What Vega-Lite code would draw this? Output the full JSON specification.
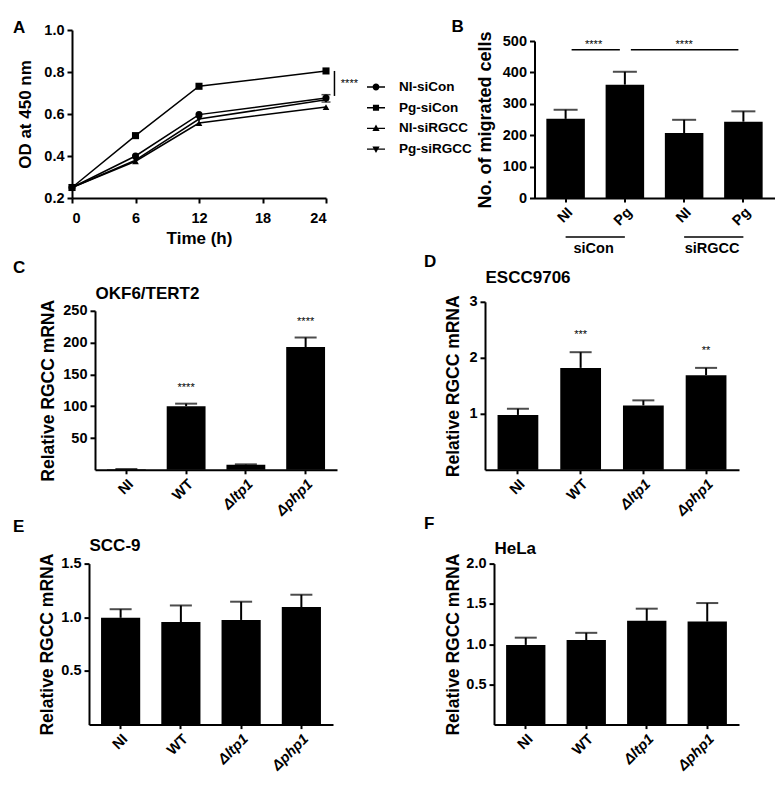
{
 "$schema": "https://vega.github.io/schema/vega-lite/v6.json",
 "background": "white",
 "padding": {"left": 13, "top": 18, "right": 0, "bottom": 0},
 "datasets": {
  "A": [
   {"series": "NI-siCon", "t": 0, "od": 0.25}, {"series": "NI-siCon", "t": 6, "od": 0.40}, {"series": "NI-siCon", "t": 12, "od": 0.597}, {"series": "NI-siCon", "t": 24, "od": 0.676},
   {"series": "Pg-siCon", "t": 0, "od": 0.25}, {"series": "Pg-siCon", "t": 6, "od": 0.497}, {"series": "Pg-siCon", "t": 12, "od": 0.732}, {"series": "Pg-siCon", "t": 24, "od": 0.805},
   {"series": "NI-siRGCC", "t": 0, "od": 0.25}, {"series": "NI-siRGCC", "t": 6, "od": 0.375}, {"series": "NI-siRGCC", "t": 12, "od": 0.557}, {"series": "NI-siRGCC", "t": 24, "od": 0.633},
   {"series": "Pg-siRGCC", "t": 0, "od": 0.25}, {"series": "Pg-siRGCC", "t": 6, "od": 0.38}, {"series": "Pg-siRGCC", "t": 12, "od": 0.576}, {"series": "Pg-siRGCC", "t": 24, "od": 0.668}
  ],
  "Aerr": [{"t": 24, "lo": 0.657, "hi": 0.692}],
  "Asig": [{"t": 24.8, "od": 0.686, "od2": 0.805, "tx": 25.4, "ty": 0.745, "lab": "****"}],
  "B": [
   {"cond": "NI-siCon", "mean": 252, "err": 281},
   {"cond": "Pg-siCon", "mean": 361, "err": 402},
   {"cond": "NI-siRGCC", "mean": 207, "err": 249},
   {"cond": "Pg-siRGCC", "mean": 243, "err": 276}
  ],
  "Bsig": [
   {"cond": "NI-siCon", "cond2": "Pg-siCon", "mean": 472},
   {"cond": "Pg-siCon", "cond2": "Pg-siRGCC", "mean": 472}
  ],
  "Bgrp": [
   {"cond": "NI-siCon", "cond2": "Pg-siCon", "mean": -124, "ty": -163, "lab": "siCon"},
   {"cond": "NI-siRGCC", "cond2": "Pg-siRGCC", "mean": -124, "ty": -163, "lab": "siRGCC"}
  ],
  "C": [
   {"g": "NI", "mean": 1, "err": 1.3},
   {"g": "WT", "mean": 100, "err": 104},
   {"g": "Δltp1", "mean": 8, "err": 8.6},
   {"g": "Δphp1", "mean": 193, "err": 208}
  ],
  "Cs": [{"g": "WT", "y": 129, "lab": "****"}, {"g": "Δphp1", "y": 233, "lab": "****"}],
  "D": [
   {"g": "NI", "mean": 0.98, "err": 1.09},
   {"g": "WT", "mean": 1.82, "err": 2.10},
   {"g": "Δltp1", "mean": 1.15, "err": 1.24},
   {"g": "Δphp1", "mean": 1.69, "err": 1.82}
  ],
  "Ds": [{"g": "WT", "y": 2.41, "lab": "***"}, {"g": "Δphp1", "y": 2.13, "lab": "**"}],
  "E": [
   {"g": "NI", "mean": 0.995, "err": 1.075},
   {"g": "WT", "mean": 0.955, "err": 1.11},
   {"g": "Δltp1", "mean": 0.975, "err": 1.145},
   {"g": "Δphp1", "mean": 1.095, "err": 1.21}
  ],
  "F": [
   {"g": "NI", "mean": 0.99, "err": 1.08},
   {"g": "WT", "mean": 1.05, "err": 1.14},
   {"g": "Δltp1", "mean": 1.29, "err": 1.44},
   {"g": "Δphp1", "mean": 1.28, "err": 1.51}
  ]
 },
 "columns": 1,
 "align": "none",
 "spacing": -3.2,
 "concat": [
  {
   "columns": 2, "align": "none", "spacing": 93.5,
   "concat": [
    {
     "title": {"text": "A", "anchor": "start", "frame": "group", "dx": -59, "offset": -28.35, "baseline": "alphabetic"},
     "width": 254, "height": 168,
     "layer": [
      {"data": {"name": "A"}, "mark": {"type": "line", "color": "black", "strokeWidth": 1.5},
       "encoding": {
        "x": {"field": "t", "type": "quantitative", "scale": {"domain": [0, 24], "nice": false}, "axis": {"values": [0, 6, 12, 18, 24], "tickCount": 20, "title": "Time (h)", "labelAngle": 0, "labelPadding": 8, "titleFontSize": 17, "titlePadding": 6}},
        "y": {"field": "od", "type": "quantitative", "scale": {"domain": [0.2, 1.0], "nice": false, "zero": false}, "axis": {"values": [0.2, 0.4, 0.6, 0.8, 1.0], "tickCount": 20, "format": ".1f", "title": "OD at 450 nm", "titleFontSize": 17, "titlePadding": 9}},
        "detail": {"field": "series"}}},
      {"data": {"name": "Aerr"}, "mark": {"type": "rule", "color": "black", "strokeWidth": 1.5},
       "encoding": {"x": {"field": "t", "type": "quantitative"}, "y": {"field": "lo", "type": "quantitative"}, "y2": {"field": "hi"}}},
      {"data": {"name": "Aerr"}, "mark": {"type": "tick", "color": "black", "thickness": 1.5, "size": 9, "orient": "horizontal"},
       "encoding": {"x": {"field": "t", "type": "quantitative"}, "y": {"field": "hi", "type": "quantitative"}}},
      {"data": {"name": "Aerr"}, "mark": {"type": "tick", "color": "black", "thickness": 1.5, "size": 9, "orient": "horizontal"},
       "encoding": {"x": {"field": "t", "type": "quantitative"}, "y": {"field": "lo", "type": "quantitative"}}},
      {"data": {"name": "A"}, "transform": [{"filter": "datum.series === 'NI-siCon'"}], "mark": {"type": "point", "shape": "circle", "filled": true, "color": "black", "opacity": 1, "size": 50},
       "encoding": {"x": {"field": "t", "type": "quantitative"}, "y": {"field": "od", "type": "quantitative"}}},
      {"data": {"name": "A"}, "transform": [{"filter": "datum.series === 'Pg-siCon'"}], "mark": {"type": "point", "shape": "square", "filled": true, "color": "black", "opacity": 1, "size": 50},
       "encoding": {"x": {"field": "t", "type": "quantitative"}, "y": {"field": "od", "type": "quantitative"}}},
      {"data": {"name": "A"}, "transform": [{"filter": "datum.series === 'NI-siRGCC'"}], "mark": {"type": "point", "shape": "triangle-up", "filled": true, "color": "black", "opacity": 1, "size": 45},
       "encoding": {"x": {"field": "t", "type": "quantitative"}, "y": {"field": "od", "type": "quantitative"}}},
      {"data": {"name": "A"}, "transform": [{"filter": "datum.series === 'Pg-siRGCC'"}], "mark": {"type": "point", "shape": "triangle-down", "filled": true, "color": "black", "opacity": 1, "size": 45},
       "encoding": {"x": {"field": "t", "type": "quantitative"}, "y": {"field": "od", "type": "quantitative"}}},
      {"data": {"name": "A"}, "mark": {"type": "point", "filled": true, "color": "black", "opacity": 0, "size": 324},
       "encoding": {"x": {"field": "t", "type": "quantitative"}, "y": {"field": "od", "type": "quantitative"},
        "shape": {"field": "series", "type": "nominal",
         "scale": {"domain": ["NI-siCon", "Pg-siCon", "NI-siRGCC", "Pg-siRGCC"],
          "range": [
           "M-1,-0.08H1V0.08H-1ZM-0.38,0A0.38,0.38,0,1,1,0.38,0A0.38,0.38,0,1,1,-0.38,0Z",
           "M-1,-0.08H1V0.08H-1ZM-0.34,-0.34H0.34V0.34H-0.34Z",
           "M-1,-0.08H1V0.08H-1ZM0,-0.44L0.4,0.3L-0.4,0.3Z",
           "M-1,-0.08H1V0.08H-1ZM0,0.44L-0.4,-0.3L0.4,-0.3Z"]},
         "legend": {"title": null, "orient": "none", "legendX": 294, "legendY": 47, "symbolSize": 324, "labelFontSize": 13.5, "labelFontWeight": "bold", "labelColor": "black", "labelOffset": 13, "rowPadding": 3.7, "padding": 0,
          "encode": {"symbols": {"update": {"fill": {"value": "black"}, "stroke": {"value": "black"}, "strokeWidth": {"value": 0.5}, "opacity": {"value": 1}, "size": {"value": 324}}}}}}}},
      {"data": {"name": "Asig"}, "mark": {"type": "rule", "color": "black", "strokeWidth": 1.5},
       "encoding": {"x": {"field": "t", "type": "quantitative"}, "y": {"field": "od", "type": "quantitative"}, "y2": {"field": "od2"}}},
      {"data": {"name": "Asig"}, "mark": {"type": "text", "fontSize": 11, "align": "left", "baseline": "middle", "color": "black"},
       "encoding": {"x": {"field": "tx", "type": "quantitative"}, "y": {"field": "ty", "type": "quantitative"}, "text": {"field": "lab"}}}
     ]
    },
    {
     "title": {"text": "B", "anchor": "start", "frame": "group", "dx": -83, "offset": -19.1, "baseline": "alphabetic"},
     "width": 240, "height": 168,
     "layer": [
      {"data": {"name": "B"}, "mark": {"type": "bar", "color": "black"},
       "encoding": {
        "x": {"field": "cond", "type": "nominal", "scale": {"domain": ["NI-siCon", "Pg-siCon", "NI-siRGCC", "Pg-siRGCC"], "paddingInner": 0.35, "paddingOuter": 0.2},
         "axis": {"title": null, "labelAngle": -45, "labelExpr": "split(datum.label, '-')[0]", "tickSize": 4}},
        "y": {"field": "mean", "type": "quantitative", "scale": {"domain": [0, 500], "nice": false, "range": [168, 11]}, "axis": {"values": [0, 100, 200, 300, 400, 500], "tickCount": 20, "title": "No. of migrated cells", "titleFontSize": 18, "titlePadding": 8}}}},
      {"data": {"name": "B"}, "mark": {"type": "rule", "color": "black", "strokeWidth": 2},
       "encoding": {"x": {"field": "cond", "type": "nominal"}, "y": {"field": "mean", "type": "quantitative"}, "y2": {"field": "err"}}},
      {"data": {"name": "B"}, "mark": {"type": "tick", "color": "black", "thickness": 2, "size": 24, "orient": "horizontal"},
       "encoding": {"x": {"field": "cond", "type": "nominal"}, "y": {"field": "err", "type": "quantitative"}}},
      {"data": {"name": "Bsig"}, "mark": {"type": "rule", "color": "black", "strokeWidth": 1.5, "xOffset": 6, "x2Offset": -5},
       "encoding": {"x": {"field": "cond", "type": "nominal"}, "x2": {"field": "cond2"}, "y": {"field": "mean", "type": "quantitative"}}},
      {"data": {"values": [{"cond": "NI-siCon", "mean": 486, "lab": "****"}]}, "mark": {"type": "text", "fontSize": 11, "baseline": "middle", "dx": 28, "color": "black"},
       "encoding": {"x": {"field": "cond", "type": "nominal"}, "y": {"field": "mean", "type": "quantitative"}, "text": {"field": "lab"}}},
      {"data": {"values": [{"cond": "NI-siRGCC", "mean": 486, "lab": "****"}]}, "mark": {"type": "text", "fontSize": 11, "baseline": "middle", "color": "black"},
       "encoding": {"x": {"field": "cond", "type": "nominal"}, "y": {"field": "mean", "type": "quantitative"}, "text": {"field": "lab"}}},
      {"data": {"name": "Bgrp"}, "mark": {"type": "rule", "color": "black", "strokeWidth": 1.5},
       "encoding": {"x": {"field": "cond", "type": "nominal"}, "x2": {"field": "cond2"}, "y": {"field": "mean", "type": "quantitative"}}},
      {"data": {"name": "Bgrp"}, "mark": {"type": "text", "fontSize": 14.5, "fontWeight": "bold", "baseline": "middle", "dx": 28, "color": "black"},
       "encoding": {"x": {"field": "cond", "type": "nominal"}, "y": {"field": "ty", "type": "quantitative"}, "text": {"field": "lab"}}}
     ]
    }
   ]
  },
  {
   "columns": 2, "align": "none", "spacing": 87,
   "concat": [
    {
     "title": {"text": "C", "anchor": "start", "frame": "group", "dx": -59, "offset": -5.6, "baseline": "alphabetic"},
     "width": 265, "height": 168,
     "layer": [
      {"data": {"name": "C"}, "mark": {"type": "bar", "color": "black"},
       "encoding": {
        "x": {"field": "g", "type": "nominal", "scale": {"domain": ["NI", "WT", "Δltp1", "Δphp1"], "range": [23, 265], "paddingInner": 0.35, "paddingOuter": 0.2},
         "axis": {"title": null, "labelAngle": -45, "tickSize": 4, "labelFontStyle": {"condition": {"test": "indexof(datum.label, 'Δ') === 0", "value": "italic"}, "value": "normal"}}},
        "y": {"field": "mean", "type": "quantitative", "scale": {"domain": [0, 250], "nice": false, "range": [168, 9]}, "axis": {"values": [50, 100, 150, 200, 250], "tickCount": 20, "offset": -23, "title": "Relative RGCC mRNA", "titlePadding": 5.5}}}},
      {"data": {"name": "C"}, "mark": {"type": "rule", "color": "black", "strokeWidth": 2},
       "encoding": {"x": {"field": "g", "type": "nominal", "axis": null}, "y": {"field": "mean", "type": "quantitative"}, "y2": {"field": "err"}}},
      {"data": {"name": "C"}, "mark": {"type": "tick", "color": "black", "thickness": 2, "size": 22, "orient": "horizontal"},
       "encoding": {"x": {"field": "g", "type": "nominal", "axis": {"orient": "top", "title": "OKF6/TERT2", "titleAnchor": "start", "titleAlign": "left", "titleBaseline": "alphabetic", "titlePadding": 3.6, "titleFontSize": 17, "labels": false, "ticks": false, "domain": false}}, "y": {"field": "err", "type": "quantitative"}}},
      {"data": {"name": "Cs"}, "mark": {"type": "text", "fontSize": 11, "baseline": "middle", "color": "black"},
       "encoding": {"x": {"field": "g", "type": "nominal", "axis": null}, "y": {"field": "y", "type": "quantitative"}, "text": {"field": "lab"}}}
     ],
     "resolve": {"axis": {"x": "independent"}}
    },
    {
     "title": {"text": "D", "anchor": "start", "frame": "group", "dx": -61, "offset": -15.6, "baseline": "alphabetic"},
     "width": 254, "height": 168,
     "layer": [
      {"data": {"name": "D"}, "mark": {"type": "bar", "color": "black"},
       "encoding": {
        "x": {"field": "g", "type": "nominal", "scale": {"domain": ["NI", "WT", "Δltp1", "Δphp1"], "paddingInner": 0.35, "paddingOuter": 0.2},
         "axis": {"title": null, "labelAngle": -45, "tickSize": 4, "labelFontStyle": {"condition": {"test": "indexof(datum.label, 'Δ') === 0", "value": "italic"}, "value": "normal"}}},
        "y": {"field": "mean", "type": "quantitative", "scale": {"domain": [0, 3], "nice": false}, "axis": {"values": [1, 2, 3], "tickCount": 20, "format": "d", "title": "Relative RGCC mRNA", "titlePadding": 6}}}},
      {"data": {"name": "D"}, "mark": {"type": "rule", "color": "black", "strokeWidth": 2},
       "encoding": {"x": {"field": "g", "type": "nominal", "axis": null}, "y": {"field": "mean", "type": "quantitative"}, "y2": {"field": "err"}}},
      {"data": {"name": "D"}, "mark": {"type": "tick", "color": "black", "thickness": 2, "size": 22, "orient": "horizontal"},
       "encoding": {"x": {"field": "g", "type": "nominal", "axis": {"orient": "top", "title": "ESCC9706", "titleAnchor": "start", "titleAlign": "left", "titleBaseline": "alphabetic", "titlePadding": 19.6, "titleFontSize": 17, "labels": false, "ticks": false, "domain": false}}, "y": {"field": "err", "type": "quantitative"}}},
      {"data": {"name": "Ds"}, "mark": {"type": "text", "fontSize": 11, "baseline": "middle", "color": "black"},
       "encoding": {"x": {"field": "g", "type": "nominal", "axis": null}, "y": {"field": "y", "type": "quantitative"}, "text": {"field": "lab"}}}
     ],
     "resolve": {"axis": {"x": "independent"}}
    }
   ]
  },
  {
   "columns": 2, "align": "none", "spacing": 91,
   "concat": [
    {
     "title": {"text": "E", "anchor": "start", "frame": "group", "dx": -59, "offset": -12.1, "baseline": "alphabetic"},
     "width": 261, "height": 161,
     "layer": [
      {"data": {"name": "E"}, "mark": {"type": "bar", "color": "black"},
       "encoding": {
        "x": {"field": "g", "type": "nominal", "scale": {"domain": ["NI", "WT", "Δltp1", "Δphp1"], "range": [17, 261], "paddingInner": 0.35, "paddingOuter": 0.2},
         "axis": {"title": null, "labelAngle": -45, "tickSize": 4, "labelFontStyle": {"condition": {"test": "indexof(datum.label, 'Δ') === 0", "value": "italic"}, "value": "normal"}}},
        "y": {"field": "mean", "type": "quantitative", "scale": {"domain": [0, 1.5], "nice": false}, "axis": {"values": [0.5, 1.0, 1.5], "tickCount": 20, "offset": -17, "format": ".1f", "title": "Relative RGCC mRNA", "titlePadding": 4}}}},
      {"data": {"name": "E"}, "mark": {"type": "rule", "color": "black", "strokeWidth": 2},
       "encoding": {"x": {"field": "g", "type": "nominal", "axis": null}, "y": {"field": "mean", "type": "quantitative"}, "y2": {"field": "err"}}},
      {"data": {"name": "E"}, "mark": {"type": "tick", "color": "black", "thickness": 2, "size": 22, "orient": "horizontal"},
       "encoding": {"x": {"field": "g", "type": "nominal", "axis": {"orient": "top", "title": "SCC-9", "titleAnchor": "start", "titleAlign": "left", "titleBaseline": "alphabetic", "titlePadding": 12.9, "titleFontSize": 17, "labels": false, "ticks": false, "domain": false}}, "y": {"field": "err", "type": "quantitative"}}}
     ],
     "resolve": {"axis": {"x": "independent"}}
    },
    {
     "title": {"text": "F", "anchor": "start", "frame": "group", "dx": -70, "offset": -6.1, "baseline": "alphabetic"},
     "width": 245, "height": 161,
     "layer": [
      {"data": {"name": "F"}, "mark": {"type": "bar", "color": "black"},
       "encoding": {
        "x": {"field": "g", "type": "nominal", "scale": {"domain": ["NI", "WT", "Δltp1", "Δphp1"], "paddingInner": 0.35, "paddingOuter": 0.2},
         "axis": {"title": null, "labelAngle": -45, "tickSize": 4, "labelFontStyle": {"condition": {"test": "indexof(datum.label, 'Δ') === 0", "value": "italic"}, "value": "normal"}}},
        "y": {"field": "mean", "type": "quantitative", "scale": {"domain": [0, 2], "nice": false}, "axis": {"values": [0.5, 1.0, 1.5, 2.0], "tickCount": 20, "format": ".1f", "title": "Relative RGCC mRNA", "titlePadding": 3}}}},
      {"data": {"name": "F"}, "mark": {"type": "rule", "color": "black", "strokeWidth": 2},
       "encoding": {"x": {"field": "g", "type": "nominal", "axis": null}, "y": {"field": "mean", "type": "quantitative"}, "y2": {"field": "err"}}},
      {"data": {"name": "F"}, "mark": {"type": "tick", "color": "black", "thickness": 2, "size": 22, "orient": "horizontal"},
       "encoding": {"x": {"field": "g", "type": "nominal", "axis": {"orient": "top", "title": "HeLa", "titleAnchor": "start", "titleAlign": "left", "titleBaseline": "alphabetic", "titlePadding": 9.9, "titleFontSize": 17, "labels": false, "ticks": false, "domain": false}}, "y": {"field": "err", "type": "quantitative"}}}
     ],
     "resolve": {"axis": {"x": "independent"}}
    }
   ]
  }
 ],
 "config": {
  "font": "Liberation Sans",
  "view": {"stroke": null},
  "axis": {"grid": false, "domainColor": "black", "domainWidth": 2, "tickColor": "black", "tickWidth": 2, "tickSize": 5, "labelColor": "black", "labelFontWeight": "bold", "labelFontSize": 14.5, "labelPadding": 3, "titleColor": "black", "titleFontWeight": "bold", "titleFontSize": 17.5, "titlePadding": 6},
  "title": {"color": "black", "fontSize": 17, "fontWeight": "bold", "anchor": "start"}
 }
}
